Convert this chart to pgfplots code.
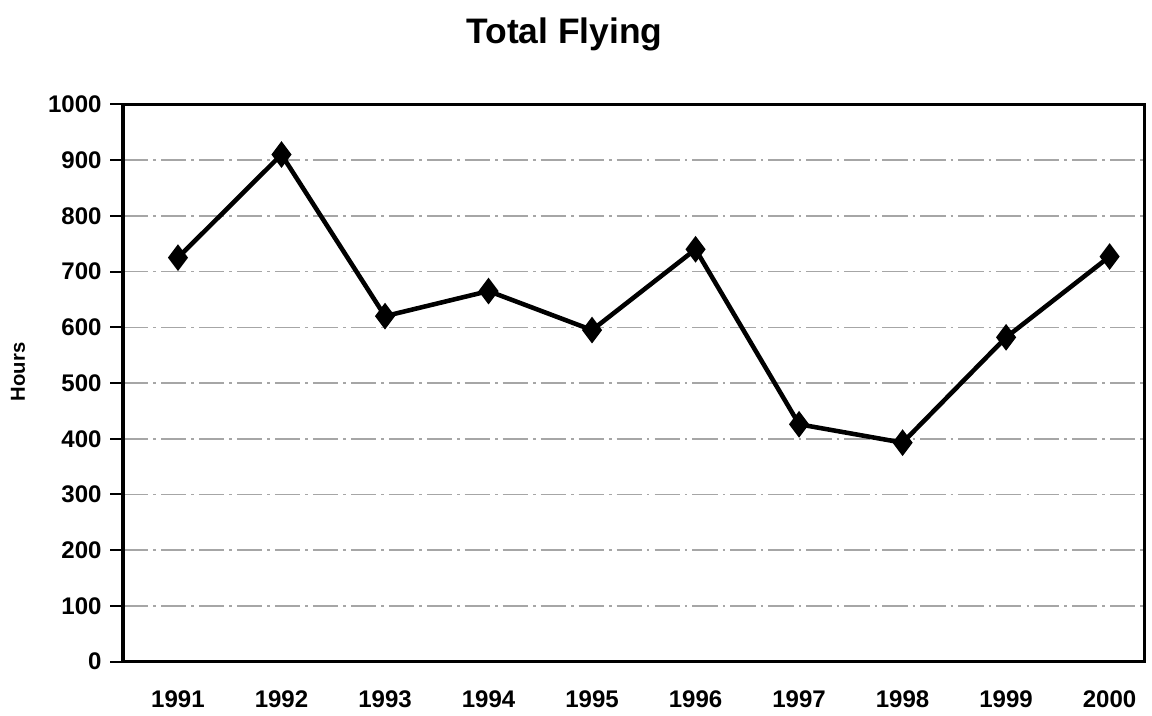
\documentclass[border=0pt]{standalone}
\usepackage{pgfplots}
\pgfplotsset{compat=1.18}
\usepackage{fontspec}
\setmainfont{Liberation Sans}
\begin{document}
\begin{tikzpicture}
\path[use as bounding box] (-1.71cm,-0.75cm) rectangle (14.29cm,9.19cm);
\begin{axis}[
  at={(0,0)}, anchor=south west,
  scale only axis,
  width=14.19cm, height=7.74cm,
  xmin=-0.53, xmax=9.34,
  ymin=0, ymax=1000,
  ytick={0,100,...,1000},
  xtick={0,...,9},
  xticklabels={1991,1992,1993,1994,1995,1996,1997,1998,1999,2000},
  /pgf/number format/assume math mode=true,
  /pgf/number format/1000 sep={},
  tick label style={font=\bfseries\fontsize{9.5}{11}\selectfont},
  xticklabel style={anchor=center, yshift=-10pt},
  major x tick style={draw=none},
  major y tick style={black, thick},
  major tick length=5pt,
  tick align=outside,
  ytick pos=left,
  ymajorgrids,
  grid style={gray!70, dash pattern=on 10pt off 2pt on 1pt off 2pt, line width=0.6pt},
  axis line style={black, line width=1.3pt},
  ylabel={\bfseries\fontsize{8}{10}\selectfont Hours},
  ylabel style={at={(axis description cs:-0.103,0.52)}, anchor=center, rotate=0},
  title={\bfseries\fontsize{14}{16}\selectfont Total Flying},
  title style={at={(axis description cs:0.432,1)}, anchor=center, yshift=0.76cm},
]
\addplot[black, line width=1.8pt, mark=diamond*, mark size=3.8pt, mark options={solid, fill=black}]
coordinates {(0,725) (1,910) (2,620) (3,665) (4,595) (5,740) (6,426) (7,393) (8,582) (9,727)};
\end{axis}
\end{tikzpicture}
\end{document}
